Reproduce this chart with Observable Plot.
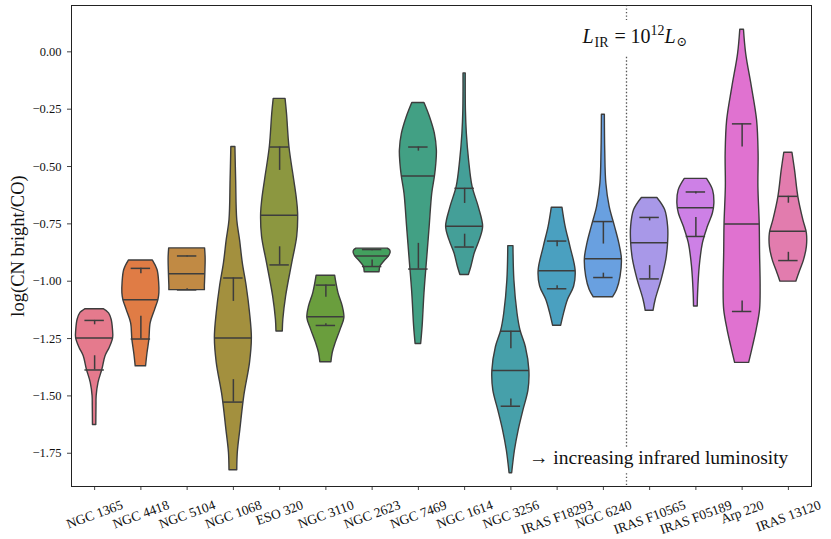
<!DOCTYPE html>
<html><head><meta charset="utf-8">
<script src="https://cdn.jsdelivr.net/npm/d3@7"></script>
<script src="https://cdn.jsdelivr.net/npm/@observablehq/plot@0.6"></script>
<style>body{margin:0;background:#fff}</style>
</head><body><div id="chart"></div>
<script>
const galaxies = ["NGC 1365","NGC 4418","NGC 5104","NGC 1068","ESO 320","NGC 3110","NGC 2623","NGC 7469","NGC 1614","NGC 3256","IRAS F18293","NGC 6240","IRAS F10565","IRAS F05189","Arp 220","IRAS 13120"];
const colors = ["#e57a8d","#e07c45","#c18a44","#a3903e","#8c9740","#6a9e3d","#43a05e","#42a084","#449f98","#46a0aa","#4aa0c0","#69a0e0","#a898e8","#cd80e6","#e072d0","#e27cae"];

// violin outlines: [log value, relative half-width] from top to bottom
const p_NGC1365 = [[-1.122,0.49],[-1.14,0.78],[-1.168,0.92],[-1.21,0.99],[-1.248,1.0],[-1.29,0.82],[-1.327,0.59],[-1.385,0.42],[-1.443,0.21],[-1.501,0.11],[-1.544,0.1],[-1.627,0.09]];
const p_NGC4418 = [[-0.91,0.65],[-0.951,0.9],[-1.009,0.99],[-1.052,1.0],[-1.081,0.95],[-1.125,0.77],[-1.183,0.53],[-1.255,0.46],[-1.313,0.36],[-1.371,0.28]];
const p_NGC5104 = [[-0.857,0.97],[-0.9,1.0],[-0.95,0.99],[-1.0,0.97],[-1.02,0.96],[-1.039,0.96]];
const p_NGC1068 = [[-0.415,0.11],[-0.56,0.15],[-0.734,0.21],[-0.821,0.36],[-0.922,0.51],[-1.023,0.72],[-1.139,0.9],[-1.248,1.0],[-1.356,0.9],[-1.501,0.59],[-1.646,0.38],[-1.747,0.24],[-1.824,0.21]];
const p_ESO320  = [[-0.205,0.32],[-0.271,0.4],[-0.415,0.53],[-0.56,0.79],[-0.64,0.93],[-0.705,1.0],[-0.806,0.95],[-0.922,0.68],[-1.067,0.35],[-1.168,0.2],[-1.219,0.17]];
const p_NGC3110 = [[-0.976,0.5],[-1.052,0.68],[-1.11,0.91],[-1.161,1.0],[-1.211,0.8],[-1.27,0.53],[-1.313,0.37],[-1.353,0.3]];
const p_NGC2623 = [[-0.858,0.85],[-0.866,0.97],[-0.876,1.0],[-0.893,0.9],[-0.915,0.65],[-0.936,0.45],[-0.961,0.4]];
const p_NGC7469 = [[-0.223,0.33],[-0.285,0.63],[-0.357,0.89],[-0.43,1.0],[-0.488,0.97],[-0.541,0.9],[-0.618,0.75],[-0.763,0.61],[-0.907,0.47],[-1.052,0.33],[-1.197,0.23],[-1.274,0.15]];
const p_NGC1614 = [[-0.094,0.06],[-0.256,0.07],[-0.357,0.12],[-0.473,0.24],[-0.589,0.43],[-0.676,0.76],[-0.763,1.0],[-0.821,0.82],[-0.878,0.55],[-0.936,0.37],[-0.973,0.23]];
const p_NGC3256 = [[-0.847,0.14],[-0.997,0.19],[-1.142,0.36],[-1.215,0.52],[-1.288,0.81],[-1.389,1.0],[-1.476,0.95],[-1.563,0.68],[-1.651,0.42],[-1.738,0.22],[-1.837,0.07]];
const p_F18293  = [[-0.68,0.29],[-0.763,0.46],[-0.85,0.72],[-0.954,1.0],[-1.023,0.92],[-1.081,0.59],[-1.139,0.38],[-1.194,0.22]];
const p_NGC6240 = [[-0.274,0.08],[-0.43,0.1],[-0.574,0.16],[-0.676,0.34],[-0.763,0.63],[-0.835,0.86],[-0.902,1.0],[-0.98,0.93],[-1.038,0.74],[-1.07,0.52]];
const p_F10565  = [[-0.637,0.42],[-0.69,0.84],[-0.763,1.0],[-0.832,1.0],[-0.907,0.9],[-0.994,0.65],[-1.081,0.33],[-1.129,0.21]];
const p_F05189  = [[-0.554,0.6],[-0.604,0.93],[-0.661,1.0],[-0.705,0.92],[-0.763,0.65],[-0.835,0.38],[-0.936,0.21],[-1.052,0.12],[-1.11,0.1]];
const p_Arp220  = [[0.096,0.1],[-0.01,0.22],[-0.155,0.53],[-0.3,0.81],[-0.444,0.89],[-0.589,0.88],[-0.748,0.95],[-0.878,0.97],[-1.023,1.0],[-1.125,0.97],[-1.211,0.79],[-1.284,0.59],[-1.356,0.38]];
const p_13120   = [[-0.44,0.22],[-0.517,0.36],[-0.633,0.54],[-0.734,0.81],[-0.792,1.0],[-0.85,1.0],[-0.907,0.85],[-0.965,0.59],[-1.002,0.43]];

const medians = [-1.248,-1.081,-0.968,-1.248,-0.712,-1.155,-0.89,-0.541,-0.76,-1.389,-0.954,-0.902,-0.832,-0.68,-0.751,-0.782];
const upperCap = [-1.171,-0.944,-0.89,-0.986,-0.415,-1.017,-0.862,-0.415,-0.595,-1.218,-0.825,-0.74,-0.722,-0.611,-0.314,-0.63];
const upperTip = [-1.19,-0.968,-0.895,-1.088,-0.517,-1.07,-0.867,-0.433,-0.661,-1.295,-0.85,-0.838,-0.737,-0.62,-0.415,-0.66];
const lowerCap = [-1.387,-1.252,-1.038,-1.527,-0.929,-1.193,-0.936,-0.947,-0.851,-1.545,-1.033,-0.984,-0.99,-0.805,-1.132,-0.91];
const lowerTip = [-1.325,-1.153,-1.033,-1.429,-0.85,-1.185,-0.908,-0.835,-0.795,-1.513,-1.02,-0.965,-0.932,-0.722,-1.086,-0.874];

const yTicks = [0, -0.25, -0.5, -0.75, -1, -1.25, -1.5, -1.75];
const yDomain = [-1.895, 0.202];
const dividerAt = 11.5;
const dividerSegs = [[0.202, 0.137], [-0.024, -1.725], [-1.839, -1.895]];
const lirNote = {x: 11.5, y: 0.037};
const lumNote = {x: 15, y: -1.796, text: "→ increasing infrared luminosity"};
const yLabel = "log(CN bright/CO)";

const profiles = [p_NGC1365,p_NGC4418,p_NGC5104,p_NGC1068,p_ESO320,p_NGC3110,p_NGC2623,p_NGC7469,p_NGC1614,p_NGC3256,p_F18293,p_NGC6240,p_F10565,p_F05189,p_Arp220,p_13120];

const FONT = '"Liberation Serif", "DejaVu Serif", serif';
const LINE = "#3d3d3d";
const HW = 0.4;   // half of max violin width (category units)
const CAP = 0.21; // half width of quartile caps

const rows = profiles.flatMap((p, i) => p.map(([y, w]) => ({name: galaxies[i], i, y, w})));
function widthAt(p, v) {
  for (let k = 0; k < p.length - 1; k++) {
    const [y0, w0] = p[k], [y1, w1] = p[k + 1];
    if (v <= y0 && v >= y1) { const t = (y0 - v) / (y0 - y1); return w0 + t * (w1 - w0); }
  }
  return p[p.length - 1][1];
}
const stats = galaxies.map((g, i) => ({
  name: g, i, med: medians[i], wm: widthAt(profiles[i], medians[i]),
  uc: upperCap[i], ut: upperTip[i], lc: lowerCap[i], lt: lowerTip[i]
}));

const XFS = 13.5;
const ctx = document.createElement("canvas").getContext("2d");
ctx.font = `${XFS}px "Liberation Serif"`;
const xLabelMarks = galaxies.map((g, i) => {
  const w = ctx.measureText(g).width;
  return Plot.text([g], {x: () => i, text: d => d, frameAnchor: "bottom", dy: 18 + w * 0.171,
    rotate: -20, textAnchor: "middle", lineAnchor: "middle", fontSize: XFS, fontFamily: FONT, fill: "#111"});
});

const noteBase = {x: () => lirNote.x, y: () => lirNote.y, lineAnchor: "bottom", textAnchor: "start", fontFamily: FONT, fill: "#111"};
const lirMarks = [
  Plot.text(["L"], {...noteBase, dx: -44, fontSize: 20, fontStyle: "italic"}),
  Plot.text(["IR"], {...noteBase, dx: -32, dy: 4, fontSize: 14}),
  Plot.text(["="], {...noteBase, dx: -12, fontSize: 20}),
  Plot.text(["10"], {...noteBase, dx: 4, fontSize: 20}),
  Plot.text(["12"], {...noteBase, dx: 24, dy: -8, fontSize: 14}),
  Plot.text(["L"], {...noteBase, dx: 38, fontSize: 20, fontStyle: "italic"}),
  Plot.text(["⊙"], {...noteBase, dx: 50, dy: 3, fontSize: 13})
];

const chart = Plot.plot({
  width: 831, height: 539,
  marginLeft: 71, marginRight: 20, marginTop: 5, marginBottom: 53,
  style: {fontFamily: FONT, fontSize: "12.5px", color: "#111", background: "#fff"},
  x: {domain: [-0.5, 15.5], label: null},
  y: {domain: yDomain, label: null},
  color: {domain: galaxies, range: colors},
  marks: [
    Plot.areaX(rows, {y: "y", x1: d => d.i - d.w * HW, x2: d => d.i + d.w * HW, z: "name", fill: "name",
      stroke: LINE, strokeWidth: 1.4, curve: "catmull-rom", fillOpacity: 1}),
    Plot.ruleY(stats, {y: "med", x1: d => d.i - d.wm * HW, x2: d => d.i + d.wm * HW, stroke: LINE, strokeWidth: 1.5}),
    Plot.ruleY(stats, {y: "uc", x1: d => d.i - CAP, x2: d => d.i + CAP, stroke: LINE, strokeWidth: 1.5}),
    Plot.ruleY(stats, {y: "lc", x1: d => d.i - CAP, x2: d => d.i + CAP, stroke: LINE, strokeWidth: 1.5}),
    Plot.ruleX(stats, {x: "i", y1: "uc", y2: "ut", stroke: LINE, strokeWidth: 1.5}),
    Plot.ruleX(stats, {x: "i", y1: "lc", y2: "lt", stroke: LINE, strokeWidth: 1.5}),
    Plot.ruleX(dividerSegs, {x: () => dividerAt, y1: d => d[0], y2: d => d[1], stroke: "#555", strokeWidth: 1.3, strokeDasharray: "1.3,2.2"}),
    ...lirMarks,
    Plot.text([lumNote], {x: "x", y: "y", text: "text", textAnchor: "end", lineAnchor: "bottom", fontSize: 19.5, fontFamily: FONT, fill: "#111"}),
    Plot.axisY({ticks: yTicks, tickFormat: d3.format(".2f"), tickSize: 4, tickPadding: 6, fontSize: 12.5, stroke: "#444"}),
    Plot.axisX({ticks: d3.range(16), tickFormat: () => "", tickSize: 4, stroke: "#444"}),
    ...xLabelMarks,
    Plot.text([yLabel], {frameAnchor: "left", dx: -53, rotate: -90, textAnchor: "middle", lineAnchor: "middle", fontSize: 18.5, fontFamily: FONT, fill: "#111"}),
    Plot.frame({stroke: "#222", strokeWidth: 1})
  ]
});
document.getElementById("chart").appendChild(chart);
</script>
</body></html>
